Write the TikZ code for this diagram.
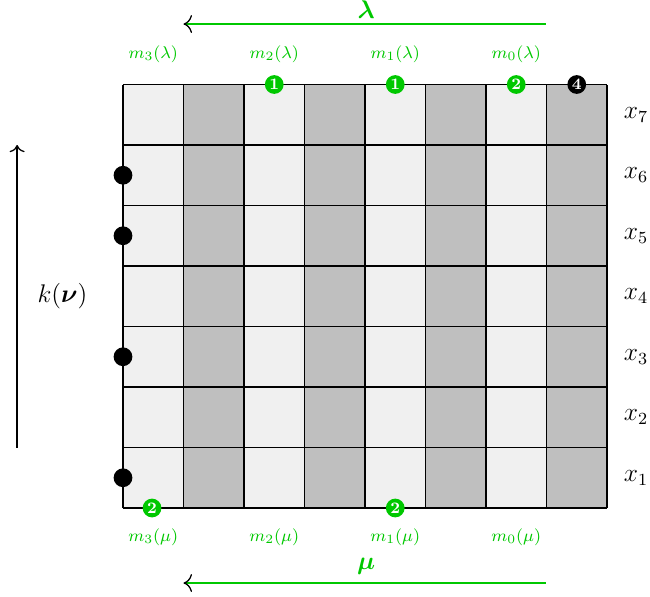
\documentclass[tikz,border=0pt]{standalone}
\usepackage{amsmath,bm}
\usetikzlibrary{arrows.meta}
\definecolor{mygreen}{RGB}{0,200,0}
\definecolor{lightcell}{RGB}{240,240,240}
\definecolor{darkcell}{RGB}{191,191,191}
\begin{document}
\begin{tikzpicture}[
  gridline/.style={line width=0.7pt},
  cnt/.style={circle, fill=mygreen, text=white, inner sep=0pt, minimum size=0.31cm, font=\fontsize{7.5}{8}\selectfont\bfseries},
  cntb/.style={cnt, fill=black},
  dotb/.style={circle, fill=black, inner sep=0pt, minimum size=0.31cm},
  mlab/.style={text=mygreen, font=\fontsize{8.5}{9}\selectfont},
  xlab/.style={font=\fontsize{11.5}{13}\selectfont},
  glab/.style={text=mygreen, font=\fontsize{11.5}{13}\selectfont},
  garrow/.style={draw=mygreen, line width=1.1pt, arrows={{To[black,line width=0.6pt]}-}},
  karrow/.style={draw=black, line width=0.8pt, arrows={-{To[line width=0.6pt]}}},
]
\useasboundingbox (-2.033,-1.455) rectangle (8.711,8.397);
% cells
\foreach \i in {0,2,4,6} \fill[lightcell] (\i,0) rectangle ++(1,7);
\foreach \i in {1,3,5,7} \fill[darkcell] (\i,0) rectangle ++(1,7);
\draw[gridline] (0,0) grid (8,7);
% row labels
\foreach \r in {1,...,7} \node[xlab] (x\r) at (8.48,\r-0.5) {$x_{\r}$};
% left dots
\node[dotb] (d6) at (0,5.5) {};
\node[dotb] (d5) at (0,4.5) {};
\node[dotb] (d3) at (0,2.5) {};
\node[dotb] (d1) at (0,0.5) {};
% top counters
\node[cnt] (t2) at (2.5,7) {1};
\node[cnt] (t1) at (4.5,7) {1};
\node[cnt] (t0) at (6.5,7) {2};
\node[cntb] (tb) at (7.5,7) {4};
% bottom counters
\node[cnt] (b3) at (0.48,0) {2};
\node[cnt] (b1) at (4.5,0) {2};
% m labels
\node[mlab] (ml3) at (0.5,7.5) {$m_3(\lambda)$};
\node[mlab] (ml2) at (2.5,7.5) {$m_2(\lambda)$};
\node[mlab] (ml1) at (4.5,7.5) {$m_1(\lambda)$};
\node[mlab] (ml0) at (6.5,7.5) {$m_0(\lambda)$};
\node[mlab] (mm3) at (0.5,-0.48) {$m_3(\mu)$};
\node[mlab] (mm2) at (2.5,-0.48) {$m_2(\mu)$};
\node[mlab] (mm1) at (4.5,-0.48) {$m_1(\mu)$};
\node[mlab] (mm0) at (6.5,-0.48) {$m_0(\mu)$};
% arrows
\coordinate (la) at (7,8.0);
\coordinate (lb) at (1,8.0);
\draw[garrow] (lb) -- (la);
\node[glab] (lam) at (4.02,8.24) {$\boldsymbol{\lambda}$};
\coordinate (ma) at (7,-1.24);
\coordinate (mb) at (1,-1.24);
\draw[garrow] (mb) -- (ma);
\node[glab] (mu) at (4.02,-0.96) {$\boldsymbol{\mu}$};
\coordinate (ka) at (-1.75,1);
\coordinate (kb) at (-1.75,6);
\draw[karrow] (ka) -- (kb);
\node[xlab] (knu) at (-1,3.5) {$k(\boldsymbol{\nu})$};
\end{tikzpicture}
\end{document}
